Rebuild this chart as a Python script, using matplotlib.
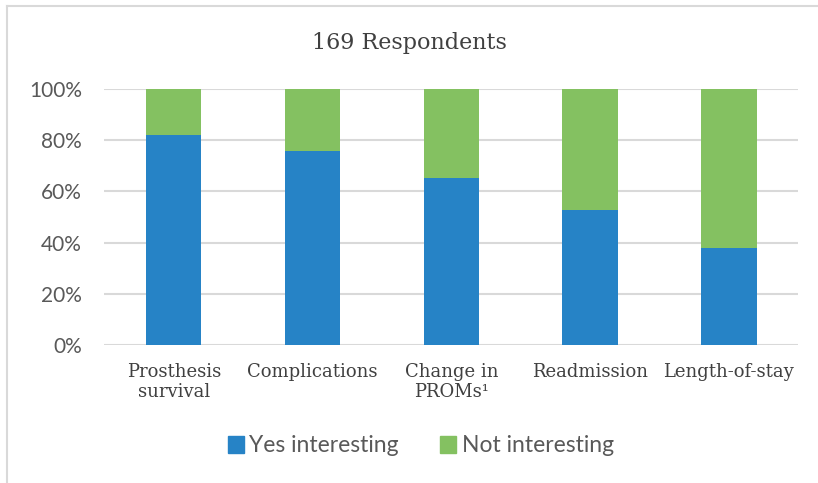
import matplotlib.pyplot as plt
from matplotlib.lines import Line2D
from matplotlib.patches import Patch

# survey outcome categories (percent of 169 respondents)
categories = ["Prosthesis\nsurvival", "Complications", "Change in\nPROMs\u00b9",
              "Readmission", "Length-of-stay"]
yes_interesting = [82.2, 75.7, 65.1, 52.7, 37.9]
not_interesting = [17.8, 24.3, 34.9, 47.3, 62.1]
ytick_vals = [0, 20, 40, 60, 80, 100]
ytick_labels = ["0%", "20%", "40%", "60%", "80%", "100%"]

blue = "#2683c6"
green = "#84c161"
grid = "#d9d9d9"

W, H = 818, 483
fig = plt.figure(figsize=(W / 100, H / 100), dpi=100)
ax = fig.add_axes([104.3 / W, 1 - 345 / H, 694 / W, 256 / H])

x = range(len(categories))
ax.bar(x, yes_interesting, width=0.4, color=blue, zorder=3)
ax.bar(x, not_interesting, width=0.4, bottom=yes_interesting, color=green, zorder=3)

ax.set_xlim(-0.5, len(categories) - 0.5)
ax.set_ylim(0, 100)
ax.set_yticks(ytick_vals)
ax.set_yticklabels(ytick_labels, fontsize=15, color="#595959", family="Lato")
ax.set_xticks(list(x))
ax.set_xticklabels(categories, fontsize=13, color="#404040", family="DejaVu Serif",
                   linespacing=1.15)
ax.tick_params(length=0)
ax.tick_params(axis="y", pad=16)
ax.tick_params(axis="x", pad=13)
ax.yaxis.grid(True, color=grid, linewidth=1.5, zorder=0)
for s in ax.spines.values():
    s.set_visible(False)

fig.text(0.5, 1 - 43 / H, "169 Respondents", ha="center", va="center",
         fontsize=16, color="#404040", family="DejaVu Serif")

handles = [Patch(color=blue, label="Yes interesting"),
           Patch(color=green, label="Not interesting")]
fig.legend(handles=handles, loc="center", bbox_to_anchor=(421 / W, 1 - 446 / H),
           ncol=2, frameon=False, prop={"family": "Lato", "size": 16.5},
           labelcolor="#595959", handlelength=0.7, handleheight=0.7,
           handletextpad=0.25, columnspacing=1.8)

# chart area border (left and top edges)
fig.add_artist(Line2D([7 / W, 7 / W], [0, 1 - 6 / H], color=grid, linewidth=1.5))
fig.add_artist(Line2D([7 / W, 1], [1 - 6 / H, 1 - 6 / H], color=grid, linewidth=1.5))

fig.savefig("out.png", dpi=100)
